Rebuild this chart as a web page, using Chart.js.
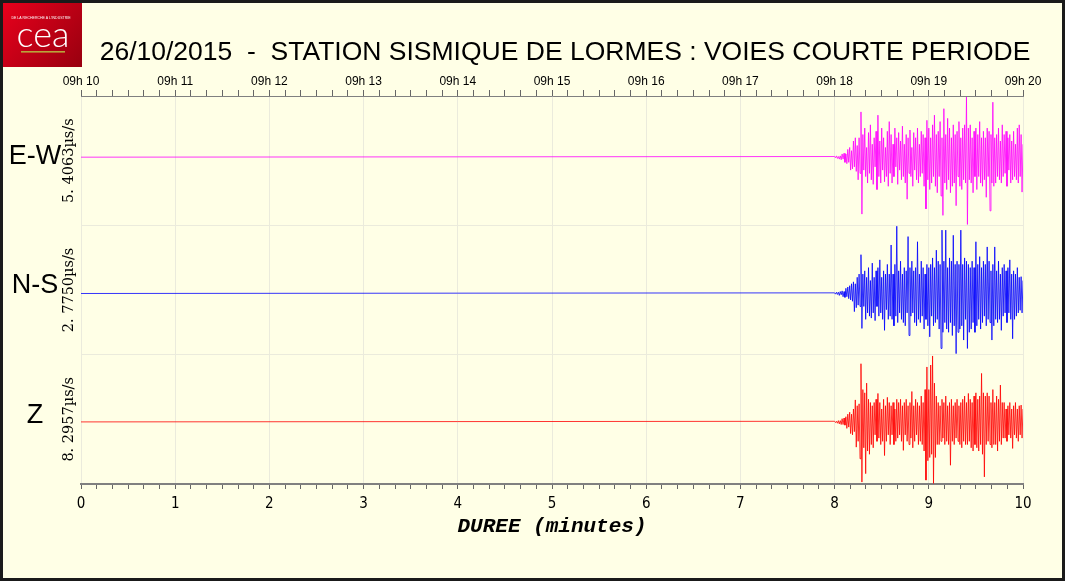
<!DOCTYPE html>
<html>
<head>
<meta charset="utf-8">
<script src="https://cdn.jsdelivr.net/npm/chart.js@4.4.0/dist/chart.umd.min.js"></script>
<style>
  html, body { margin: 0; padding: 0; background: #ffffe6; }
  #wrap { width: 1065px; height: 581px; position: relative; }
</style>
</head>
<body>
<div id="wrap"><canvas id="seismo"></canvas></div>
<script>
const chartTitle = '26/10/2015  -  STATION SISMIQUE DE LORMES : VOIES COURTE PERIODE';
// time axis (minutes after 09h10)
const clockLabels = ['09h 10', '09h 11', '09h 12', '09h 13', '09h 14', '09h 15',
                     '09h 16', '09h 17', '09h 18', '09h 19', '09h 20'];
const channels = ['E-W', 'N-S', 'Z'];
const fullScale = ['5. 4063\u00b5s/s', '2. 7750\u00b5s/s', '8. 2957\u00b5s/s'];
const traceColors = ['#ff00ff', '#0000ff', '#ff0000'];

// quiet trace until the event, then one sample every 0.01 min
const eventStart = 8.0;
const sampleStep = 0.01;

// amplitudes as a fraction of each channel's full scale
const ewValues = [
  0.01, -0.01, 0.02, -0.02, 0.01, -0.03, 0.02, -0.04, 0.05, -0.03,
  0.06, -0.08, 0.05, -0.1, 0.12, -0.08, 0.15, -0.2, 0.1, -0.18,
  0.25, -0.15, 0.3, -0.22, 0.18, -0.35, 0.3, -0.25, 0.7, -0.88,
  0.35, -0.2, 0.45, -0.3, 0.15, -0.4, 0.38, -0.25, 0.5, -0.35,
  0.2, -0.42, 0.3, -0.15, 0.4, -0.5, 0.65, -0.3, 0.25, -0.4,
  0.45, -0.2, 0.3, -0.38, 0.15, -0.3, 0.4, -0.45, 0.55, -0.25,
  0.35, -0.4, 0.2, -0.3, 0.45, -0.15, 0.3, -0.42, 0.38, -0.2,
  0.25, -0.35, 0.48, -0.3, 0.2, -0.4, 0.35, -0.65, 0.3, -0.25,
  0.42, -0.3, 0.15, -0.45, 0.38, -0.2, 0.3, -0.35, 0.45, -0.4,
  0.2, -0.3, 0.4, -0.25, 0.35, -0.45, 0.3, -0.8, 0.57, -0.35,
  0.45, -0.5, 0.3, -0.4, 0.5, -0.3, 0.65, -0.45, 0.35, -0.55,
  0.4, -0.3, 0.55, -0.6, 0.3, -0.9, 0.75, -0.4, 0.35, -0.5,
  0.6, -0.35, 0.45, -0.55, 0.3, -0.45, 0.5, -0.4, 0.35, -0.75,
  0.4, -0.3, 0.55, -0.45, 0.3, -0.5, 0.45, -0.35, 0.5, -0.4,
  0.93, -1.04, 0.45, -0.35, 0.5, -0.4, 0.3, -0.55, 0.4, -0.3,
  0.45, -0.5, 0.35, -0.3, 0.55, -0.4, 0.3, -0.45, 0.4, -0.35,
  0.3, -0.62, 0.45, -0.3, 0.4, -0.83, 0.35, -0.4, 0.85, -0.45,
  0.3, -0.4, 0.35, -0.3, 0.45, -0.35, 0.25, -0.4, 0.5, -0.3,
  0.35, -0.25, 0.4, -0.45, 0.3, -0.2, 0.35, -0.4, 0.25, -0.35,
  0.4, -0.3, 0.2, -0.35, 0.45, -0.4, 0.5, -0.3, 0.35, -0.54,
  0.2
];
const nsValues = [
  0.01, -0.01, 0.02, -0.015, 0.02, -0.03, 0.03, -0.02, 0.04, -0.05,
  0.03, -0.06, 0.08, -0.05, 0.1, -0.08, 0.12, -0.1, 0.15, -0.12,
  0.18, -0.28, 0.15, -0.22, 0.25, -0.18, 0.3, -0.2, 0.6, -0.54,
  0.3, -0.2, 0.35, -0.4, 0.25, -0.3, 0.4, -0.35, 0.2, -0.38,
  0.47, -0.3, 0.25, -0.42, 0.35, -0.2, 0.4, -0.35, 0.52, -0.3,
  0.25, -0.4, 0.35, -0.57, 0.3, -0.25, 0.45, -0.4, 0.3, -0.35,
  0.75, -0.4, 0.3, -0.5, 0.45, -0.35, 1.04, -0.45, 0.35, -0.3,
  0.5, -0.4, 0.3, -0.45, 0.4, -0.5, 0.35, -0.3, 0.88, -0.65,
  0.4, -0.35, 0.5, -0.3, 0.35, -0.45, 0.4, -0.5, 0.8, -0.4,
  0.3, -0.45, 0.5, -0.35, 0.4, -0.55, 0.3, -0.4, 0.45, -0.5,
  0.4, -0.67, 0.45, -0.35, 0.55, -0.5, 0.4, -0.45, 0.67, -0.4,
  0.5, -0.55, 0.45, -0.85, 0.98, -0.6, 0.5, -0.45, 0.98, -0.55,
  0.4, -0.6, 0.55, -0.45, 0.5, -0.65, 0.9, -0.5, 0.45, -0.93,
  0.5, -0.6, 0.45, -0.55, 0.98, -0.5, 0.45, -0.72, 0.55, -0.4,
  0.5, -0.85, 0.45, -0.6, 0.4, -0.55, 0.5, -0.45, 0.4, -0.6,
  0.8, -0.5, 0.45, -0.4, 0.57, -0.55, 0.4, -0.45, 0.5, -0.35,
  0.45, -0.5, 0.72, -0.4, 0.5, -0.45, 0.35, -0.72, 0.45, -0.5,
  0.72, -0.4, 0.35, -0.45, 0.5, -0.4, 0.3, -0.57, 0.4, -0.35,
  0.45, -0.3, 0.35, -0.45, 0.4, -0.3, 0.52, -0.4, 0.3, -0.7,
  0.35, -0.4, 0.3, -0.35, 0.4, -0.3, 0.25, -0.26, 0.26, -0.3,
  0.2
];
const zValues = [
  0.01, -0.01, 0.01, -0.02, 0.02, -0.03, 0.02, -0.04, 0.05, -0.04,
  0.06, -0.05, 0.08, -0.1, 0.12, -0.08, 0.15, -0.18, 0.12, -0.2,
  0.2, -0.15, 0.34, -0.39, 0.25, -0.3, 0.28, -0.57, 0.9, -0.93,
  0.5, -0.4, 0.45, -0.8, 0.6, -0.45, 0.35, -0.5, 0.3, -0.35,
  0.25, -0.4, 0.3, -0.2, 0.35, -0.3, 0.44, -0.25, 0.3, -0.35,
  0.2, -0.3, 0.35, -0.52, 0.25, -0.3, 0.38, -0.2, 0.3, -0.35,
  0.25, -0.2, 0.3, -0.35, 0.2, -0.3, 0.35, -0.25, 0.3, -0.2,
  0.35, -0.3, 0.25, -0.44, 0.3, -0.2, 0.35, -0.3, 0.25, -0.35,
  0.3, -0.25, 0.47, -0.4, 0.25, -0.3, 0.35, -0.2, 0.3, -0.35,
  0.25, -0.3, 0.4, -0.35, 0.3, -0.45, 0.5, -0.9, 0.85, -0.6,
  0.5, -0.55, 0.88, -0.5, 1.02, -0.95, 0.6, -0.55, 0.4, -0.35,
  0.3, -0.35, 0.25, -0.3, 0.35, -0.25, 0.3, -0.35, 0.4, -0.3,
  0.25, -0.35, 0.3, -0.67, 0.35, -0.3, 0.25, -0.35, 0.3, -0.25,
  0.35, -0.3, 0.25, -0.35, 0.3, -0.4, 0.35, -0.3, 0.4, -0.35,
  0.3, -0.35, 0.44, -0.3, 0.35, -0.4, 0.3, -0.45, 0.4, -0.35,
  0.45, -0.4, 0.35, -0.45, 0.4, -0.35, 0.75, -0.5, 0.45, -0.85,
  0.4, -0.35, 0.45, -0.3, 0.4, -0.35, 0.3, -0.4, 0.5, -0.35,
  0.3, -0.35, 0.4, -0.45, 0.35, -0.3, 0.57, -0.35, 0.3, -0.25,
  0.3, -0.25, 0.2, -0.3, 0.25, -0.2, 0.3, -0.25, 0.2, -0.41,
  0.25, -0.2, 0.3, -0.25, 0.2, -0.3, 0.25, -0.2, 0.26, -0.25,
  0.2
];
// each band's limits (the zero line is not centred in the band)
const bandMin = [-1.054, -0.946, -0.96];
const bandMax = [0.946, 1.054, 1.04];

const isWhole = v => Math.abs(v - Math.round(v)) < 1e-6;

function toPoints(vals) {
  const pts = [{ x: 0, y: 0 }];
  vals.forEach((v, i) => pts.push({ x: eventStart + i * sampleStep, y: v }));
  return pts;
}

const axisIds = ['yEW', 'yNS', 'yZ'];
const series = [ewValues, nsValues, zValues];

function channelAxis(i) {
  return {
    type: 'linear',
    position: 'left',
    stack: 'traces',
    stackWeight: 1,
    min: bandMin[i],
    max: bandMax[i],
    afterBuildTicks: s => { s.ticks = [{ value: s.min }, { value: s.max }]; },
    ticks: { display: false },
    grid: { color: '#ebebdc', drawTicks: false },
    border: { display: false },
    title: {
      display: true,
      text: fullScale[i],
      color: '#000',
      font: { family: '"DejaVu Serif", serif', size: 14.5 },
      padding: { top: 61, bottom: 0 }
    },
    afterFit: s => { s.width = 81; }
  };
}

const paperPlugin = {
  id: 'paper',
  beforeDraw(chart) {
    const c = chart.ctx;
    c.save();
    c.fillStyle = '#ffffe6';
    c.fillRect(0, 0, chart.width, chart.height);
    c.restore();
  },
  afterDraw(chart) {
    const c = chart.ctx;
    c.save();
    c.fillStyle = '#000';
    c.textAlign = 'center';
    c.textBaseline = 'middle';
    // title
    c.font = '26.5px "Liberation Sans", Arial, sans-serif';
    c.fillText(chartTitle, 565, 53);
    // channel names
    c.font = '27px "Liberation Sans", Arial, sans-serif';
    axisIds.forEach((id, i) => {
      const s = chart.scales[id];
      c.fillText(channels[i], 35, (s.top + s.bottom) / 2 - 4);
    });
    // logo
    const g = c.createLinearGradient(3, 3, 82, 67);
    g.addColorStop(0, '#e8001c');
    g.addColorStop(1, '#98000f');
    c.fillStyle = g;
    c.fillRect(3, 3, 79, 64);
    c.fillStyle = '#fff';
    c.font = '300 36px Lato, sans-serif';
    c.fillText('cea', 43, 35);
    c.font = '3.5px "Liberation Sans", sans-serif';
    c.fillText('DE LA RECHERCHE \u00c0 L\u2019INDUSTRIE', 41, 18);
    c.fillStyle = '#b9a53a';
    c.fillRect(21, 51, 44, 1.6);
    // frame
    c.strokeStyle = '#1a1a1a';
    c.lineWidth = 3;
    c.strokeRect(1.5, 1.5, chart.width - 3, chart.height - 3);
    c.restore();
  }
};

const scales = {
  x: {
    type: 'linear',
    position: 'bottom',
    min: 0,
    max: 10,
    ticks: {
      stepSize: 1 / 6,
      autoSkip: false,
      maxRotation: 0,
      minRotation: 0,
      padding: 6,
      color: '#000',
      font: { family: '"DejaVu Sans Condensed", "Liberation Sans", sans-serif', size: 15 },
      callback: v => isWhole(v) ? String(Math.round(v)) : ''
    },
    grid: {
      color: ctx => (ctx.tick && isWhole(ctx.tick.value)) ? '#ebebdc' : 'rgba(0,0,0,0)',
      tickColor: '#666',
      tickLength: 5
    },
    border: { color: '#808080', width: 2 },
    title: {
      display: true,
      text: 'DUREE (minutes)',
      color: '#000',
      font: { family: '"Liberation Mono", monospace', size: 21, weight: 'bold', style: 'italic' },
      padding: { top: 0, bottom: 5 }
    },
    afterFit: s => { s.height = 60; }
  },
  x2: {
    type: 'linear',
    position: 'top',
    min: 0,
    max: 10,
    ticks: {
      stepSize: 1 / 6,
      autoSkip: false,
      maxRotation: 0,
      minRotation: 0,
      padding: 1,
      color: '#000',
      font: { family: '"Liberation Sans", sans-serif', size: 12 },
      callback: v => isWhole(v) ? clockLabels[Math.round(v)] : ''
    },
    grid: { drawOnChartArea: false, tickColor: '#666', tickLength: 6 },
    border: { color: '#808080' },
    afterFit: s => { s.height = 29; }
  }
};
// stacked axes: the last one defined is drawn at the top
[2, 1, 0].forEach(i => { scales[axisIds[i]] = channelAxis(i); });

new Chart(document.getElementById('seismo'), {
  type: 'line',
  data: {
    datasets: series.map((vals, i) => ({
      label: channels[i],
      data: toPoints(vals),
      xAxisID: 'x',
      yAxisID: axisIds[i],
      borderColor: traceColors[i],
      borderWidth: 0.8,
      pointRadius: 0,
      tension: 0,
      fill: false
    }))
  },
  options: {
    responsive: true,
    maintainAspectRatio: false,
    animation: false,
    layout: { padding: { left: 0, right: 42, top: 67, bottom: 37 } },
    scales: scales,
    plugins: {
      legend: { display: false },
      tooltip: { enabled: false },
      title: { display: false }
    }
  },
  plugins: [paperPlugin]
});
</script>
</body>
</html>
